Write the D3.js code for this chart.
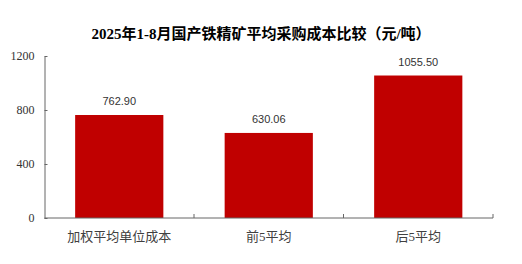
<!DOCTYPE html>
<html>
<head>
<meta charset="utf-8">
<script src="https://cdn.jsdelivr.net/npm/d3@7"></script>
<style>
  body { margin: 0; background: #fff; }
  .canvas { width: 522px; height: 264px; }
  text { font-family: "Liberation Serif", "Noto Sans CJK SC", serif; }
</style>
</head>
<body>
<div class="canvas"></div>
<script>
// data
const title = '2025年1-8月国产铁精矿平均采购成本比较（元/吨）';
const categories = ['加权平均单位成本', '前5平均', '后5平均'];
const values = [762.90, 630.06, 1055.50];
const yTicks = [0, 400, 800, 1200];

const W = 522, H = 264;
const m = { t: 56, r: 29, b: 46, l: 44.5 };

const svg = d3.select('.canvas')
  .append('svg')
  .attr('width', W)
  .attr('height', H);

const x = d3.scaleBand()
  .domain(categories)
  .range([m.l, W - m.r])
  .padding(0);

const y = d3.scaleLinear()
  .domain([0, 1200])
  .range([H - m.b, m.t]);

const barW = x.bandwidth() * 0.59;

//title
svg.append('text')
  .attr('x', 261)
  .attr('y', 39)
  .attr('text-anchor', 'middle')
  .style('font-size', '15px')
  .style('font-weight', 'bold')
  .style('fill', '#000')
  .text(title);

//bars
svg.append('g')
  .selectAll('rect')
  .data(values)
  .enter()
  .append('rect')
  .attr('x', (d, i) => x(categories[i]) + (x.bandwidth() - barW) / 2)
  .attr('y', d => y(d))
  .attr('width', barW)
  .attr('height', d => y(0) - y(d))
  .style('fill', '#C00000');

//value labels
svg.append('g')
  .selectAll('text')
  .data(values)
  .enter()
  .append('text')
  .attr('x', (d, i) => x(categories[i]) + x.bandwidth() / 2)
  .attr('y', d => y(d) - 10)
  .attr('text-anchor', 'middle')
  .style('font-family', '"Liberation Sans", sans-serif')
  .style('font-size', '11px')
  .style('fill', '#333')
  .text(d => d.toFixed(2));

//y axis
const yAxis = svg.append('g')
  .attr('transform', `translate(${m.l},0)`)
  .call(d3.axisLeft(y)
    .tickValues(yTicks)
    .tickSizeInner(-3)
    .tickSizeOuter(0)
    .tickPadding(10)
    .tickFormat(d3.format('d')));
yAxis.select('.domain').attr('stroke', '#666');
yAxis.selectAll('.tick line').attr('stroke', '#666');
yAxis.selectAll('.tick text')
  .style('font-size', '12px')
  .style('fill', '#333');

//x axis
const xg = svg.append('g');
xg.append('line')
  .attr('x1', m.l)
  .attr('x2', W - m.r)
  .attr('y1', y(0))
  .attr('y2', y(0))
  .attr('stroke', '#666');
xg.selectAll('.xtick')
  .data(categories)
  .enter()
  .append('line')
  .attr('class', 'xtick')
  .attr('x1', d => x(d) + x.bandwidth())
  .attr('x2', d => x(d) + x.bandwidth())
  .attr('y1', y(0))
  .attr('y2', y(0) - 4)
  .attr('stroke', '#666');
xg.selectAll('.xlabel')
  .data(categories)
  .enter()
  .append('text')
  .attr('class', 'xlabel')
  .attr('x', d => x(d) + x.bandwidth() / 2)
  .attr('y', y(0) + 23)
  .attr('text-anchor', 'middle')
  .style('font-size', '13px')
  .style('fill', '#404040')
  .text(d => d);
</script>
</body>
</html>
